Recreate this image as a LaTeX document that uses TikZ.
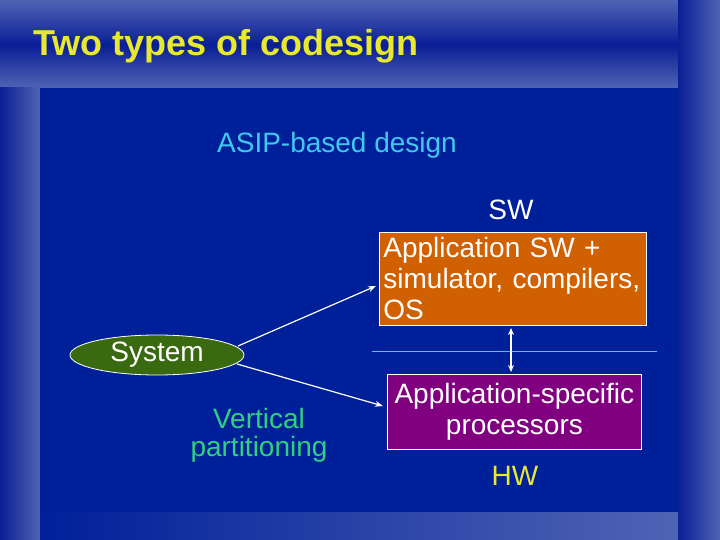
\documentclass[tikz,border=0pt]{standalone}
\usepackage{fontspec}
\setmainfont{Liberation Sans}
\usetikzlibrary{shapes.geometric,arrows.meta}
\definecolor{bgl}{HTML}{5064B4}
\definecolor{bgd}{HTML}{00209A}
\definecolor{bgm}{HTML}{0A1E96}
\definecolor{ttl}{HTML}{E8E830}
\definecolor{cyn}{HTML}{40C8F0}
\definecolor{org}{HTML}{D06000}
\definecolor{prp}{HTML}{800080}
\definecolor{grn}{HTML}{3A6A10}
\definecolor{vgr}{HTML}{30D080}
\tikzset{
 box/.style={draw=white,line width=0.8pt,text=white,font=\fontsize{28}{31}\selectfont,inner sep=3pt},
 lbl/.style={font=\fontsize{28}{28}\selectfont},
 arr/.style={draw=white,line width=1.2pt,-{Stealth[length=8pt,width=6pt]}}
}
\begin{document}
\begin{tikzpicture}[x=1pt,y=-1pt]
\useasboundingbox (0,0) rectangle (720,540);
\fill[bgl] (0,0) rectangle (720,540);
\shade[top color=bgl,bottom color=bgm] (0,0) rectangle (678,45);
\shade[top color=bgm,bottom color=bgl] (0,45) rectangle (678,88);
\shade[left color=bgm,right color=bgl] (0,88) rectangle (40,540);
\shade[left color=bgm,right color=bgl] (678,0) rectangle (720,540);
\shade[left color=bgd,right color=bgl] (40,512) rectangle (678,540);
\fill[bgd] (40,88) rectangle (678,512);
\node[anchor=base west,text=ttl,font=\fontsize{36}{38}\selectfont\bfseries,inner sep=0pt] (title) at (33,56) {Two types of codesign};
\node[anchor=base,text=cyn,lbl] (asip) at (337,153) {ASIP-based design};
\node[anchor=base,text=white,lbl] (sw) at (511,219) {SW};
\node[box,fill=org,minimum width=267,minimum height=93,align=left,text width=259,anchor=north west] (app) at (379,232) {Application SW +\\simulator, compilers,\\OS};
\node[box,fill=prp,minimum width=254,minimum height=75,align=center,anchor=north west] (proc) at (387,374) {Application-specific\\processors};
\node[ellipse,draw=white,line width=0.8pt,fill=grn,text=white,lbl,minimum width=174,minimum height=40,inner sep=0pt] (sys) at (157,355) {System};
\coordinate (l1) at (372,351);
\coordinate (l2) at (657,351);
\draw[cyn,line width=0.8pt] (l1) -- (l2);
\coordinate (d1) at (511,328);
\coordinate (d2) at (511,372);
\draw[white,line width=1.2pt,{Stealth[length=7pt,width=6pt]}-{Stealth[length=7pt,width=6pt]}] (d1) -- (d2);
\coordinate (a1) at (376,286);
\coordinate (a2) at (383,406);
\coordinate (s1) at (238,346);
\coordinate (s2) at (237,364);
\draw[arr] (s1) -- (a1);
\draw[arr] (s2) -- (a2);
\node[text=vgr,lbl,align=center] (vp) at (259,435) {Vertical\\partitioning};
\node[anchor=base,text=ttl,lbl] (hw) at (515,485) {HW};
\end{tikzpicture}
\end{document}
